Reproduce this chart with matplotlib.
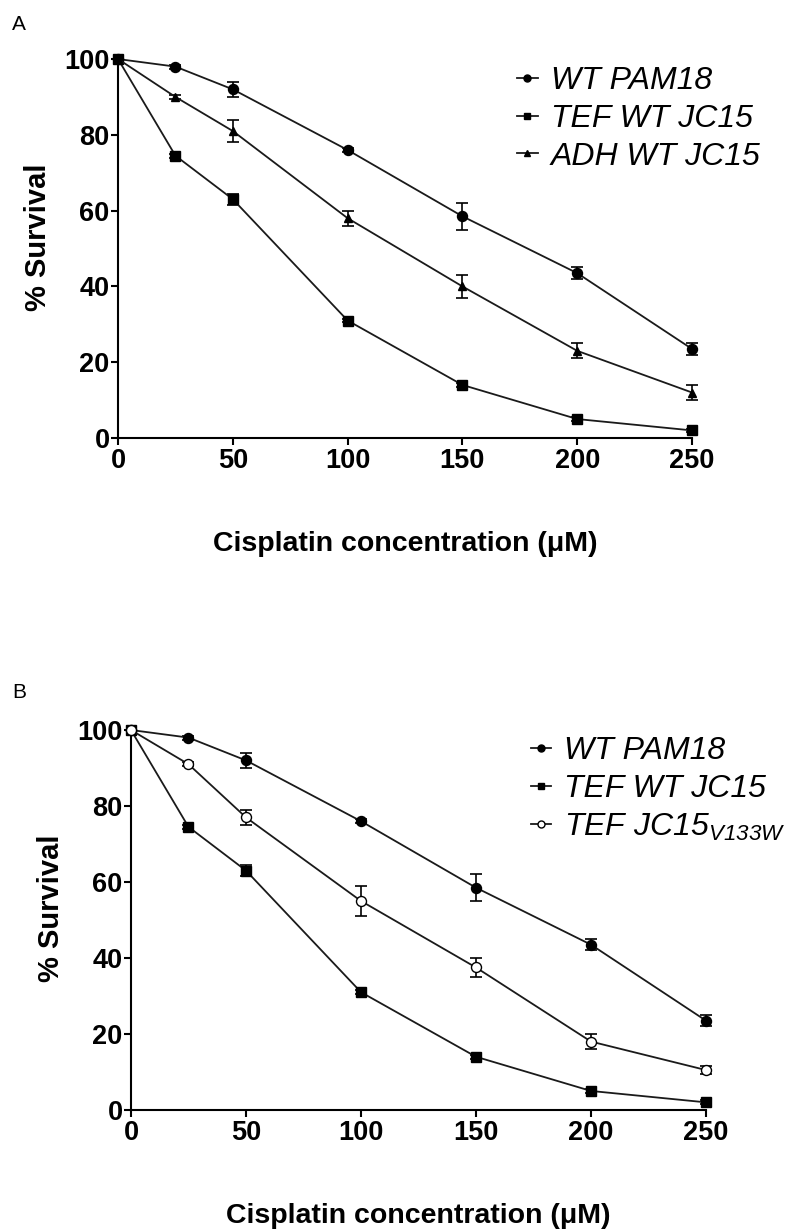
"""Cisplatin survival curves, panels A and B."""

import matplotlib
matplotlib.use("Agg")
import matplotlib.pyplot as plt

plt.rcParams["font.family"] = ["Liberation Sans", "DejaVu Sans"]
plt.rcParams["mathtext.fontset"] = "custom"
plt.rcParams["mathtext.it"] = "Liberation Sans:italic"
plt.rcParams["mathtext.rm"] = "Liberation Sans:italic"

conc = [0, 25, 50, 100, 150, 200, 250]

wt_pam18 = [100, 98, 92, 76, 58.5, 43.5, 23.5]
wt_pam18_err = [0, 0.5, 2, 0.5, 3.5, 1.5, 1.5]

tef_wt = [100, 74.5, 63, 31, 14, 5, 2]
tef_wt_err = [0, 0.5, 1.5, 0.5, 0.5, 0.5, 0.5]

adh_wt = [100, 90, 81, 58, 40, 23, 12]
adh_wt_err = [0, 0.5, 3, 2, 3, 2, 2]

tef_v133w = [100, 91, 77, 55, 37.5, 18, 10.5]
tef_v133w_err = [0, 0.5, 2, 4, 2.5, 2, 1]

x_ticks = [0, 50, 100, 150, 200, 250]
y_ticks = [0, 20, 40, 60, 80, 100]

panels = [
    ("A", [0.1496, 0.6439, 0.7275, 0.3081], 0.9797, 0.981,
     [("WT PAM18", wt_pam18, wt_pam18_err, "o", "black"),
      ("TEF WT JC15", tef_wt, tef_wt_err, "s", "black"),
      ("ADH WT JC15", adh_wt, adh_wt_err, "^", "black")]),
    ("B", [0.166, 0.0976, 0.7288, 0.3089], 0.4366, 0.984,
     [("WT PAM18", wt_pam18, wt_pam18_err, "o", "black"),
      ("TEF WT JC15", tef_wt, tef_wt_err, "s", "black"),
      (r"TEF JC15$_{V133W}$", tef_v133w, tef_v133w_err, "o", "white")]),
]

fig = plt.figure(figsize=(7.89, 12.3), dpi=100)

for letter, rect, letter_y, leg_top, series in panels:
    ax = fig.add_axes(rect)
    handles = []
    for label, y, err, marker, face in series:
        ms = {"o": 7.2, "s": 6.5, "^": 6.0}[marker]
        ax.errorbar(conc, y, yerr=err, color="black", capsize=4,
                    elinewidth=1.2, capthick=1.2, clip_on=False, zorder=3,
                    fmt="none")
        h, = ax.plot(conc, y, color="#1a1a1a", lw=1.3, marker=marker,
                     ms=ms, mfc=face, mec="black", mew=1.0,
                     clip_on=False, zorder=4, label=label)
        handles.append(h)

    ax.set_xlim(0, 250)
    ax.set_ylim(0, 100)
    ax.set_xticks(x_ticks)
    ax.set_yticks(y_ticks)
    for s in ["top", "right"]:
        ax.spines[s].set_visible(False)
    for s in ["left", "bottom"]:
        ax.spines[s].set_linewidth(1.5)
    ax.tick_params(direction="out", length=5, width=1.5, labelsize=19.5)
    ax.tick_params(axis="x", pad=2)
    ax.tick_params(axis="y", pad=1)
    for t in ax.get_xticklabels() + ax.get_yticklabels():
        t.set_fontweight("bold")
    ax.set_ylabel("% Survival", fontsize=21, fontweight="bold")
    ax.yaxis.set_label_coords(-0.115, 0.53)
    ax.set_xlabel("Cisplatin concentration (\u03bcM)", fontsize=20.5,
                  fontweight="bold")
    ax.xaxis.set_label_coords(0.5, -0.245)

    ax.legend(handles=handles, loc="upper left",
              bbox_to_anchor=(0.695, leg_top), borderaxespad=0, borderpad=0,
              frameon=False, handlelength=0.65, handletextpad=0.4,
              labelspacing=0.24, markerscale=0.7,
              prop={"style": "italic", "size": 23})

    fig.text(0.015, letter_y, letter, fontsize=15, va="center", ha="left")

fig.savefig("out.png", dpi=100, facecolor="white")
